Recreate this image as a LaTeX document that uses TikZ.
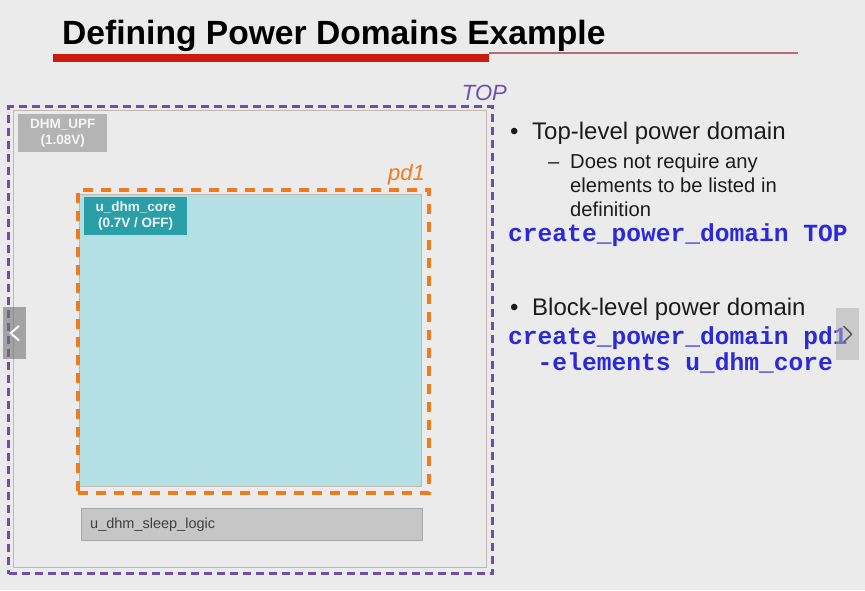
\documentclass[tikz,border=0pt]{standalone}
\usepackage{fontspec}
\setmainfont{Liberation Sans}
\setmonofont{Liberation Mono}
\definecolor{slidebg}{HTML}{EBEBEB}
\definecolor{titlered}{HTML}{CC1A0E}
\definecolor{thinred}{HTML}{B86A78}
\definecolor{toppurple}{HTML}{6E4FAE}
\definecolor{pdorange}{HTML}{F07A1E}
\definecolor{corecyan}{HTML}{B3DFE5}
\definecolor{coreteal}{HTML}{2B9FA8}
\definecolor{upfgray}{HTML}{B4B4B4}
\definecolor{sleepgray}{HTML}{C6C6C6}
\definecolor{innerframe}{HTML}{C2B9AC}
\definecolor{codeblue}{HTML}{2A2AD8}
\definecolor{bodytext}{HTML}{1C1C1C}
\tikzset{
  domainbox/.style={draw, line width=3pt, inner sep=0pt, anchor=north west},
  topdomain/.style={domainbox, toppurple, dash pattern=on 8pt off 5pt},
  pddomain/.style={domainbox, pdorange, line width=3.5pt, dash pattern=on 10pt off 8pt},
  domainlabel/.style={anchor=base east, inner sep=0pt, font=\itshape\fontsize{22}{22}\selectfont},
  instbox/.style={inner sep=0pt, anchor=north west},
  taglabel/.style={font=\bfseries\fontsize{13.5}{16}\selectfont, align=center, inner sep=0pt},
  bullettext/.style={anchor=base west, inner sep=0pt, text=bodytext, font=\fontsize{24}{24}\selectfont},
  subtext/.style={anchor=base west, inner sep=0pt, text=bodytext, font=\fontsize{20.2}{24}\selectfont, align=left},
  codetext/.style={anchor=base west, inner sep=0pt, text=codeblue, font=\ttfamily\bfseries\fontsize{24.6}{26}\selectfont},
  navbox/.style={inner sep=0pt, anchor=north west, minimum width=23pt, minimum height=52pt}
}
\begin{document}
\begin{tikzpicture}[x=1pt,y=-1pt]
  % slide background
  \fill[slidebg] (0,0) rectangle (865,590);
  \useasboundingbox (0,0) rectangle (865,590);

  % title and underline
  \node[anchor=base west, inner sep=0pt, font=\bfseries\fontsize{33.6}{36}\selectfont, text=black] (title) at (62,44) {Defining Power Domains Example};
  \fill[titlered] (53,54) rectangle (489,62);
  \draw[thinred, line width=1.3pt] (489,53) -- (798,53);

  % top-level domain
  \node[topdomain, minimum width=484pt, minimum height=467pt] (top) at (7,105) {};
  \node[domainlabel, text=toppurple] (toplabel) at (507,100) {TOP};
  \draw[innerframe, line width=0.9pt] (13,110) rectangle (486,567);
  \node[instbox, fill=upfgray, minimum width=89pt, minimum height=38pt] (upf) at (18,114) {};
  \node[taglabel, text=white!88!upfgray] (upftext) at (upf.center) {DHM\_UPF\\(1.08V)};

  % block-level domain pd1
  \node[instbox, fill=corecyan, draw=innerframe, line width=0.8pt, minimum width=342pt, minimum height=292pt] (core) at (79,194) {};
  \node[pddomain, minimum width=351pt, minimum height=303pt] (pd1) at (76,188) {};
  \node[domainlabel, text=pdorange] (pdlabel) at (425,180) {pd1};
  \node[instbox, fill=coreteal, minimum width=103pt, minimum height=38pt] (coretag) at (84,197) {};
  \node[taglabel, text=white!92!coreteal] (coretext) at (coretag.center) {u\_dhm\_core\\(0.7V / OFF)};

  % always-on sleep logic
  \node[instbox, fill=sleepgray, draw=sleepgray!85!black, line width=0.5pt, minimum width=341pt, minimum height=32pt] (sleep) at (81,508) {};
  \node[anchor=base west, inner sep=0pt, text=black!75, font=\fontsize{14.5}{16}\selectfont] (sleeptext) at (90,528) {u\_dhm\_sleep\_logic};

  % explanatory text
  \node[bullettext] (b1dot) at (510,139) {\textbullet};
  \node[bullettext] (b1) at (532,139) {Top-level power domain};
  \node[subtext] (s1dash) at (548,168) {–};
  \node[subtext] (s1a) at (570,168) {Does not require any};
  \node[subtext] (s1b) at (570,192) {elements to be listed in};
  \node[subtext] (s1c) at (570,216) {definition};
  \node[codetext] (c1) at (508,241) {create\_power\_domain TOP};
  \node[bullettext] (b2dot) at (510,315) {\textbullet};
  \node[bullettext] (b2) at (532,315) {Block-level power domain};
  \node[codetext] (c2) at (508,344) {create\_power\_domain pd1};
  \node[codetext] (c3) at (508,370) {\ \ -elements u\_dhm\_core};

  % navigation tabs
  \node[navbox, fill=black!55, fill opacity=0.6] (navleft) at (3,307) {};
  \draw[white, line width=2pt, line cap=round, line join=round] ([xshift=4pt,yshift=-7pt]navleft.center) -- ([xshift=-4pt]navleft.center) -- ([xshift=4pt,yshift=7pt]navleft.center);
  \node[navbox, fill=black!30, fill opacity=0.55] (navright) at (836,308) {};
  \draw[black!65, line width=1.5pt, line join=round] ([xshift=-4pt,yshift=-8pt]navright.center) -- ([xshift=4pt]navright.center) -- ([xshift=-4pt,yshift=8pt]navright.center);
\end{tikzpicture}
\end{document}
